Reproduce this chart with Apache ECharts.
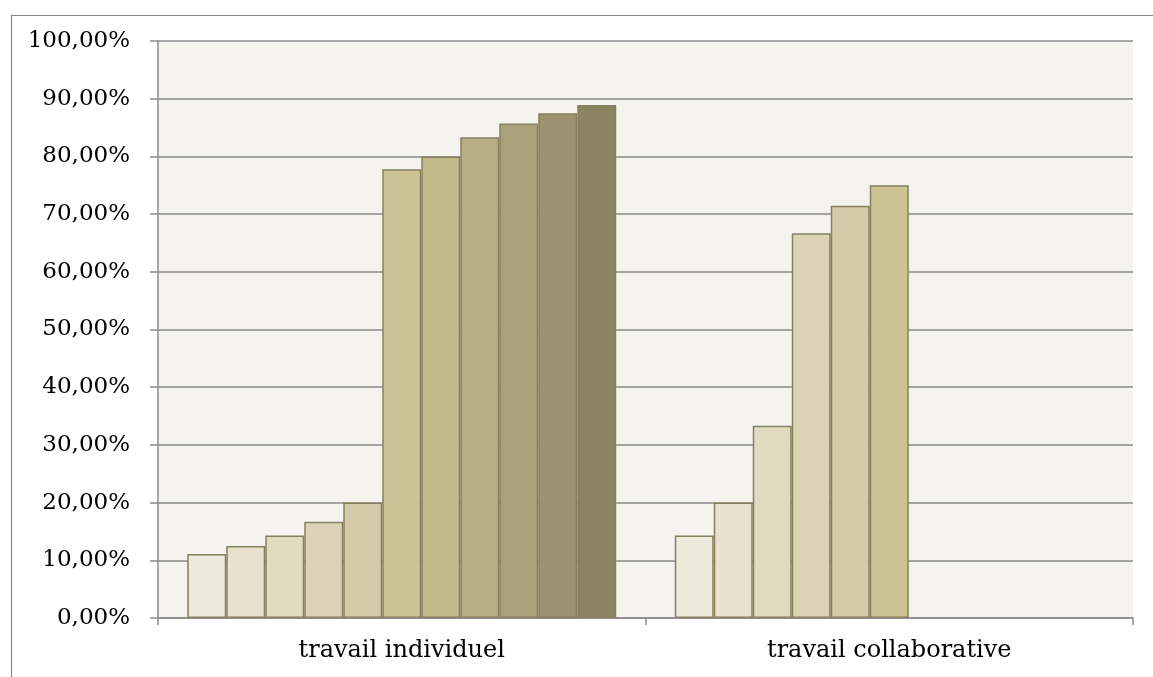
<!DOCTYPE html>
<html><head><meta charset="utf-8">
<script src="https://cdn.jsdelivr.net/npm/echarts@6/dist/echarts.min.js"></script>
<style>html,body{margin:0;padding:0;background:#fff}#c{width:1153px;height:677px}</style>
</head><body><div id="c"></div>
<script>
const categories = ['travail individuel', 'travail collaborative'];
const yTicks = [0, 10, 20, 30, 40, 50, 60, 70, 80, 90, 100];
const s1 = [11.11, 14.29];
const s2 = [12.5, 20.0];
const s3 = [14.29, 33.33];
const s4 = [16.67, 66.67];
const s5 = [20.0, 71.43];
const s6 = [77.78, 75.0];
const s7 = [80.0, null];
const s8 = [83.33, null];
const s9 = [85.71, null];
const s10 = [87.5, null];
const s11 = [88.89, null];
const seriesData = [s1, s2, s3, s4, s5, s6, s7, s8, s9, s10, s11];
const colors = ['#ede9db', '#e7e1cd', '#e1dbc2', '#dad3b6', '#d3cba7', '#ccc495', '#c2b98a', '#b6af86', '#a9a17b', '#9a9270', '#8a8462'];

const font = '"DejaVu Serif", serif';
const chart = echarts.init(document.getElementById('c'));
chart.setOption({
  animation: false,
  backgroundColor: '#ffffff',
  graphic: [{
    type: 'rect', left: 9, top: 13, z: -10,
    shape: { width: 1160, height: 680 },
    style: { fill: 'none', stroke: '#878787', lineWidth: 1.2 }
  }],
  grid: { left: 158, top: 41, right: 20, bottom: 59, containLabel: false,
          show: true, backgroundColor: '#f4f3ee', borderWidth: 0 },
  xAxis: {
    type: 'category', data: categories,
    axisLine: { lineStyle: { color: '#8c8c8c', width: 1.5 } },
    axisTick: { show: true, length: 7, lineStyle: { color: '#8c8c8c', width: 1.5 } },
    axisLabel: { color: '#000', fontFamily: font, fontSize: 24, margin: 21 }
  },
  yAxis: {
    type: 'value', min: 0, max: 100, interval: 10,
    axisLine: { show: true, lineStyle: { color: '#8c8c8c', width: 1.5 } },
    axisTick: { show: true, length: 8, lineStyle: { color: '#8c8c8c', width: 1.5 } },
    splitLine: { lineStyle: { color: '#8a8a8a', width: 1.5 } },
    axisLabel: { color: '#000', fontFamily: font, fontSize: 23, margin: 28,
      formatter: v => yTicks.includes(v) ? v.toFixed(2).replace('.', ',') + '%' : '' }
  },
  series: seriesData.map((d, i) => ({
    type: 'bar', name: 'Série ' + (i + 1), data: d,
    barGap: '0%', barCategoryGap: '12%',
    itemStyle: { color: colors[i], borderColor: '#86805f', borderWidth: 1.5 }
  }))
});
</script></body></html>
